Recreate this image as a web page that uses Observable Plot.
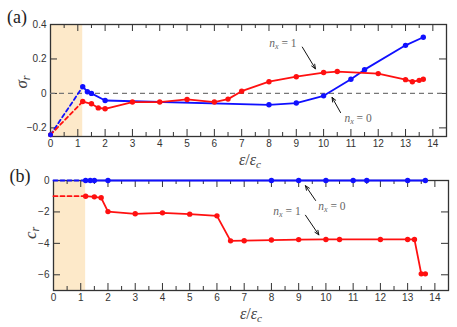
<!DOCTYPE html>
<html><head><meta charset="utf-8">
<script src="https://cdn.jsdelivr.net/npm/d3@7"></script>
<script src="https://cdn.jsdelivr.net/npm/@observablehq/plot@0.6"></script>
<style>
body{margin:0;background:#fff;}
#chart{width:457px;height:327px;position:relative;overflow:hidden;background:#fff;}
#chart svg{position:absolute;left:0;}
</style></head><body><div id="chart"></div>
<script>
// ---- data ----
const sigmaBlueX = [1.18, 1.35, 1.5, 2, 8, 9, 10, 11, 11.5, 13, 13.65];
const sigmaBlueY = [0.039, 0.010, 0.000, -0.041, -0.066, -0.056, -0.014, 0.082, 0.138, 0.279, 0.326];
const sigmaRedX = [1.18, 1.5, 1.75, 2, 3, 4, 5, 6, 6.5, 7, 8, 9, 10, 10.5, 12, 13, 13.25, 13.5, 13.65];
const sigmaRedY = [-0.047, -0.060, -0.084, -0.089, -0.050, -0.050, -0.035, -0.050, -0.033, 0.013, 0.068, 0.097, 0.121, 0.127, 0.115, 0.080, 0.068, 0.076, 0.082];
const sigmaDashX = [0, 1.18];
const sigmaDashBlueY = [-0.24, 0.039];
const sigmaDashRedY = [-0.24, -0.047];

const cBlueX = [1.18, 1.35, 1.5, 2, 8, 9, 10, 11, 11.5, 13, 13.65];
const cBlueY = [0, 0, 0, 0, 0, 0, 0, 0, 0, 0, 0];
const cRedX = [1.18, 1.5, 1.75, 2, 3, 4, 5, 6, 6.5, 7, 8, 9, 10, 10.5, 12, 13, 13.25, 13.5, 13.65];
const cRedY = [-1.0, -1.04, -1.1, -1.98, -2.12, -2.06, -2.14, -2.25, -3.84, -3.83, -3.79, -3.76, -3.75, -3.75, -3.75, -3.75, -3.75, -5.94, -5.94];
const cDashX = [0, 1.18];
const cDashBlueY = [0, 0];
const cDashRedY = [-1, -1];

const shadeX = [0, 1.18];
const xMajor = [0,1,2,3,4,5,6,7,8,9,10,11,12,13,14];
const xMinor = [0.5,1.5,2.5,3.5,4.5,5.5,6.5,7.5,8.5,9.5,10.5,11.5,12.5,13.5,14.5];
const sigmaTicks = [-0.2, 0, 0.2, 0.4];
const cTicks = [-6, -4, -2, 0];
const xDomain = [0, 14.5];
const sigmaDomain = [-0.25, 0.4];
const cDomain = [-7, 0];

// annotations (data coordinates)
const annA = [{label: "1", x: 8.53, y: 0.29, x1: 9.22, y1: 0.269, x2: 9.70, y2: 0.143},
              {label: "0", x: 11.28, y: -0.148, x1: 10.62, y1: -0.111, x2: 10.31, y2: -0.023}];
const annB = [{label: "0", x: 10.24, y: -1.64, x1: 9.62, y1: -1.27, x2: 9.25, y2: -0.33},
              {label: "1", x: 8.59, y: -1.96, x1: 9.25, y1: -2.21, x2: 9.74, y2: -3.46}];

// ---- helpers ----
const BLUE = "#1010ff", RED = "#ff1010", AX = "#333";
const pts = (xs, ys) => xs.map((x, i) => ({x, y: ys[i]}));
const fmtNum = d => d === 0 ? "0" : (d < 0 ? "\u2212" : "") + (Number.isInteger(d) ? Math.abs(d) : Math.abs(d).toFixed(1));
const serif = "'Liberation Serif', 'DejaVu Serif', serif";
const sans = "'Liberation Sans', Arial, sans-serif";

function panel({height, mt, mb, ml, mr, yDomain, yTicks, blue, red, dashB, dashR, zeroDash, ann, startDots}) {
  const W = 457 - ml - mr, H = height - mt - mb;
  const marks = [
    Plot.rect([{x1: shadeX[0], x2: shadeX[1]}], {x1: "x1", x2: "x2", fill: "#fde9c9"}),
    Plot.frame({stroke: AX, strokeWidth: 1.3}),
    Plot.tickX(xMajor, {x: d => d, insetTop: H - 7, stroke: AX}),
    Plot.tickX(xMinor, {x: d => d, insetTop: H - 4, stroke: AX}),
    Plot.tickX(xMajor, {x: d => d, insetBottom: H - 7, stroke: AX}),
    Plot.tickX(xMinor, {x: d => d, insetBottom: H - 4, stroke: AX}),
    Plot.tickY(yTicks, {y: d => d, insetRight: W - 7, stroke: AX}),
    Plot.tickY(yTicks, {y: d => d, insetLeft: W - 7, stroke: AX})
  ];
  if (zeroDash) marks.push(Plot.ruleY([0], {stroke: "#777", strokeWidth: 1.2, strokeDasharray: "5,4"}));
  marks.push(
    Plot.line(dashB, {x: "x", y: "y", stroke: BLUE, strokeWidth: 1.8, strokeDasharray: "4,3"}),
    Plot.line(dashR, {x: "x", y: "y", stroke: RED, strokeWidth: 1.8, strokeDasharray: "4,3"}),
    Plot.line(blue, {x: "x", y: "y", stroke: BLUE, strokeWidth: 1.8}),
    Plot.dot(blue, {x: "x", y: "y", fill: BLUE, r: 2.7}),
    Plot.line(red, {x: "x", y: "y", stroke: RED, strokeWidth: 1.8}),
    Plot.dot(red, {x: "x", y: "y", fill: RED, r: 2.7})
  );
  if (startDots) marks.push(
    Plot.dot(dashR.slice(0, 1), {x: "x", y: "y", fill: RED, r: 2.5}),
    Plot.dot(dashB.slice(0, 1), {x: "x", y: "y", fill: BLUE, r: 2.5})
  );
  marks.push(
    Plot.arrow(ann, {x1: "x1", y1: "y1", x2: "x2", y2: "y2", stroke: "#111", strokeWidth: 1, headLength: 7, headAngle: 45}),
    Plot.axisX(xMajor, {tickSize: 0, tickPadding: 3, tickFormat: fmtNum, fontSize: 10, fill: AX, fontFamily: sans, label: null}),
    Plot.axisY(yTicks, {tickSize: 0, tickPadding: 4, tickFormat: fmtNum, fontSize: 10, fill: AX, fontFamily: sans, label: null})
  );
  return Plot.plot({
    width: 457, height,
    marginTop: mt, marginBottom: mb, marginLeft: ml, marginRight: mr,
    x: {domain: xDomain},
    y: {domain: yDomain},
    style: {background: "transparent", overflow: "visible"},
    marks
  });
}

function mathText(svg, x, y, parts, {size = 15, color = "#444", rotate = 0, anchor = "middle"} = {}) {
  const t = d3.select(svg).append("text")
    .attr("transform", `translate(${x},${y}) rotate(${rotate})`)
    .attr("text-anchor", anchor)
    .attr("font-family", serif)
    .attr("font-size", size)
    .attr("fill", color);
  for (const p of parts) {
    const s = t.append("tspan").text(p.t);
    if (p.italic) s.attr("font-style", "italic");
    if (p.sub) s.attr("font-size", size * 0.7).attr("baseline-shift", "-25%");
  }
  return t;
}

const root = document.getElementById("chart");

const pa = panel({height: 163, mt: 24, mb: 27, ml: 50, mr: 11, yDomain: sigmaDomain, yTicks: sigmaTicks,
  blue: pts(sigmaBlueX, sigmaBlueY), red: pts(sigmaRedX, sigmaRedY),
  dashB: pts(sigmaDashX, sigmaDashBlueY), dashR: pts(sigmaDashX, sigmaDashRedY), zeroDash: true, ann: annA, startDots: true});
pa.style.top = "0px";
root.appendChild(pa);

const pb = panel({height: 164, mt: 17, mb: 37, ml: 53, mr: 9, yDomain: cDomain, yTicks: cTicks,
  blue: pts(cBlueX, cBlueY), red: pts(cRedX, cRedY),
  dashB: pts(cDashX, cDashBlueY), dashR: pts(cDashX, cDashRedY), zeroDash: false, ann: annB, startDots: false});
pb.style.top = "163px";
root.appendChild(pb);

// labels
mathText(pa, 17, 23, [{t: "(a)"}], {size: 18, color: "#222"});
mathText(pb, 20, 19, [{t: "(b)"}], {size: 18, color: "#222"});
mathText(pa, 27, 82, [{t: "\u03c3", italic: true}, {t: "r", italic: true, sub: true}], {rotate: -90, size: 17});
mathText(pb, 36, 70, [{t: "c", italic: true}, {t: "r", italic: true, sub: true}], {rotate: -90, size: 17});
mathText(pa, 250, 165, [{t: "\u03b5", italic: true}, {t: "/"}, {t: "\u03b5", italic: true}, {t: "c", italic: true, sub: true}], {size: 16});
mathText(pb, 251, 156, [{t: "\u03b5", italic: true}, {t: "/"}, {t: "\u03b5", italic: true}, {t: "c", italic: true, sub: true}], {size: 16});

function annLabels(svg, ann) {
  const xs = svg.scale("x"), ys = svg.scale("y");
  for (const a of ann) {
    mathText(svg, xs.apply(a.x), ys.apply(a.y) + 4,
      [{t: "n", italic: true}, {t: "x", italic: true, sub: true}, {t: " = " + a.label}],
      {size: 11.5, color: "#666"});
  }
}
annLabels(pa, annA);
annLabels(pb, annB);
</script></body></html>
